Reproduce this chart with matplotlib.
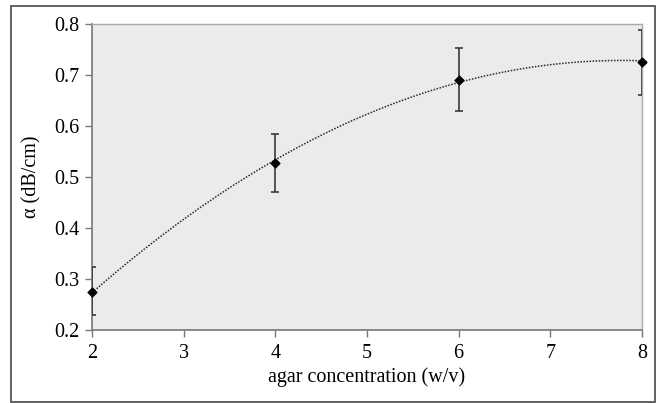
import matplotlib
matplotlib.use("Agg")
import matplotlib.pyplot as plt
import numpy as np

# agar concentration (w/v) vs attenuation coefficient
conc = [2, 4, 6, 8]
alpha = [0.275, 0.528, 0.691, 0.726]
err_hi = [0.324, 0.584, 0.753, 0.788]
err_lo = [0.229, 0.471, 0.629, 0.661]

x_ticks = [2, 3, 4, 5, 6, 7, 8]
y_ticks = [0.2, 0.3, 0.4, 0.5, 0.6, 0.7, 0.8]

plt.rcParams["font.family"] = ["Liberation Serif", "DejaVu Serif"]
FS = 14.5
ERR_COLOR = "#3a3a3a"
CAP_HALF = 0.045  # half-width of the error-bar caps, in x data units

fig = plt.figure(figsize=(6.57, 4.03), dpi=100, facecolor="white")
ax = fig.add_axes([92 / 657, 1 - 330 / 403, 550 / 657, 306 / 403])
ax.set_facecolor("#ebebeb")

# error bars drawn by hand so the caps at x=2 and x=8 get clipped by the axes
ax.vlines(conc, err_lo, err_hi, color=ERR_COLOR, linewidth=1.2, zorder=3)
for ends in (err_lo, err_hi):
    ax.hlines(ends, np.subtract(conc, CAP_HALF), np.add(conc, CAP_HALF),
              color=ERR_COLOR, linewidth=1.2, zorder=3)

# second-order polynomial trendline through the measured points
coef = np.polyfit(conc, alpha, 2)
xs = np.linspace(conc[0], conc[-1], 200)
ax.plot(xs, np.polyval(coef, xs), color="#2a2a2a", linestyle=(0, (1, 1)),
        linewidth=1.1, zorder=2)

ax.scatter(conc, alpha, marker="D", s=20, color="black", zorder=4, clip_on=False)

ax.set_xlim(2, 8)
ax.set_ylim(0.2, 0.8)
ax.set_xticks(x_ticks)
ax.set_yticks(y_ticks)
ax.set_yticklabels([f"{v:.1f}" for v in y_ticks])
ax.tick_params(direction="out", length=5, width=1, color="#777777",
               labelsize=FS, labelcolor="black")
ax.tick_params(axis="x", pad=5)
ax.tick_params(axis="y", pad=4)

for side in ("left", "bottom"):
    ax.spines[side].set_color("#777777")
    ax.spines[side].set_linewidth(1.2)
for side in ("top", "right"):
    ax.spines[side].set_color("#aaaaaa")
    ax.spines[side].set_linewidth(1.0)

ax.set_xlabel("agar concentration (w/v)", fontsize=FS, labelpad=3)
ax.set_ylabel("α (dB/cm)", fontsize=FS, labelpad=9)

# outer frame around the whole figure
frame = plt.Rectangle((11 / 657, 1 - 402 / 403), 644 / 657, 396 / 403,
                      transform=fig.transFigure, fill=False,
                      edgecolor="#555555", linewidth=1.3)
fig.patches.append(frame)

fig.savefig("out.png", dpi=100, facecolor="white")
